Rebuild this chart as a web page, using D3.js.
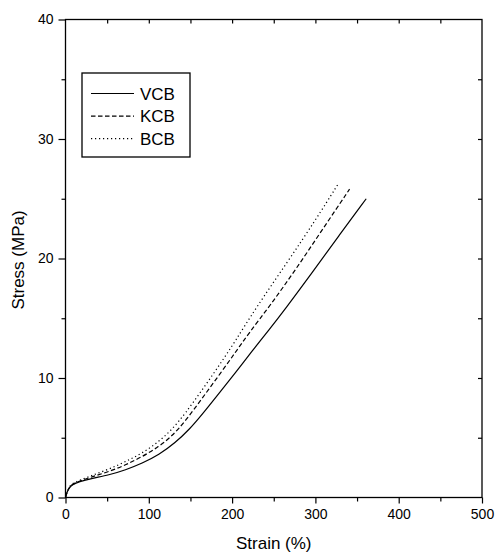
<!DOCTYPE html>
<html>
<head>
<meta charset="utf-8">
<script src="https://cdn.jsdelivr.net/npm/d3@7"></script>
<style>
  body { margin: 0; background: #fff; }
  svg { display: block; font-family: "Liberation Sans", Arial, sans-serif; }
</style>
</head>
<body>
<svg id="chart" width="496" height="554"></svg>
<script>
// strain (%) / stress (MPa)
const vcbStrain = [0, 2, 5, 8, 16, 32, 52, 72, 92, 112, 132, 148, 164, 184, 204, 224, 244, 264, 296, 328, 361];
const vcbStress = [0, 0.5, 0.85, 1.05, 1.32, 1.61, 1.88, 2.3, 2.86, 3.56, 4.6, 5.65, 6.95, 8.7, 10.45, 12.25, 14.0, 15.8, 18.8, 21.9, 25.0];

const kcbStrain = [0, 2, 5, 8, 16, 32, 52, 72, 92, 112, 128, 144, 164, 184, 204, 220, 246, 276, 308, 341];
const kcbStress = [0, 0.5, 0.9, 1.1, 1.36, 1.74, 2.16, 2.72, 3.41, 4.25, 5.15, 6.4, 8.3, 10.2, 12.15, 13.74, 16.1, 19.04, 22.38, 25.8];

const bcbStrain = [0, 2, 5, 8, 16, 32, 52, 72, 92, 112, 128, 144, 164, 184, 204, 227, 268, 300, 327];
const bcbStress = [0, 0.5, 0.95, 1.15, 1.42, 1.86, 2.36, 3.0, 3.7, 4.67, 5.7, 7.05, 9.0, 11.0, 13.1, 15.7, 19.87, 23.2, 26.2];

const seriesNames = ['VCB', 'KCB', 'BCB'];
const xTicks = [0, 100, 200, 300, 400, 500];
const yTicks = [0, 10, 20, 30, 40];

const series = [
  { name: 'VCB', x: vcbStrain, y: vcbStress, dash: null },
  { name: 'KCB', x: kcbStrain, y: kcbStress, dash: '4.5,2.5' },
  { name: 'BCB', x: bcbStrain, y: bcbStress, dash: '1.2,2.8' }
];

const margin = { top: 19.5, right: 14, bottom: 56.5, left: 65.5 };
const width = 496 - margin.left - margin.right;
const height = 554 - margin.top - margin.bottom;

const svg = d3.select('#chart');
const g = svg.append('g')
  .attr('transform', `translate(${margin.left},${margin.top})`);

const xScale = d3.scaleLinear().domain([0, 500]).range([0, width]);
const yScale = d3.scaleLinear().domain([0, 40]).range([height, 0]);

// frame
g.append('rect')
  .attr('width', width)
  .attr('height', height)
  .attr('fill', 'none')
  .attr('stroke', '#000')
  .attr('stroke-width', 1.3);

// bottom axis
g.append('g')
  .attr('transform', `translate(0,${height})`)
  .call(d3.axisBottom(xScale).tickValues(xTicks).tickSize(6).tickPadding(6));
g.append('g')
  .attr('transform', `translate(0,${height})`)
  .call(d3.axisBottom(xScale).tickValues([50, 150, 250, 350, 450]).tickSize(4).tickFormat(''));

// left axis
g.append('g')
  .call(d3.axisLeft(yScale).tickValues(yTicks).tickSize(7).tickPadding(5));
g.append('g')
  .call(d3.axisLeft(yScale).tickValues([5, 15, 25, 35]).tickSize(4).tickFormat(''));

// inner ticks on top and right
g.append('g')
  .call(d3.axisTop(xScale).tickValues([50, 100, 150, 200, 250, 300, 350, 400, 450]).tickSize(-4).tickFormat(''));
g.append('g')
  .attr('transform', `translate(${width},0)`)
  .call(d3.axisRight(yScale).tickValues([5, 10, 15, 20, 25, 30, 35]).tickSize(-4).tickFormat(''));

g.selectAll('.domain').remove();
g.selectAll('.tick line').attr('stroke', '#000').attr('stroke-width', 1.2);
g.selectAll('.tick text')
  .attr('fill', '#000')
  .style('font-size', '14px')
  .style('font-family', '"Liberation Sans", Arial, sans-serif');

// curves
const line = d3.line()
  .x(d => xScale(d[0]))
  .y(d => yScale(d[1]))
  .curve(d3.curveBasis);

series.forEach(s => {
  const pts = s.x.map((v, i) => [v, s.y[i]]);
  g.append('path')
    .datum(pts)
    .attr('d', line)
    .attr('fill', 'none')
    .attr('stroke', '#000')
    .attr('stroke-width', 1.2)
    .attr('stroke-dasharray', s.dash);
});

// legend
const legend = svg.append('g');
legend.append('rect')
  .attr('x', 82)
  .attr('y', 73)
  .attr('width', 108)
  .attr('height', 84)
  .attr('fill', '#fff')
  .attr('stroke', '#000')
  .attr('stroke-width', 1.3);

series.forEach((s, i) => {
  const cy = 93.5 + i * 22.6;
  legend.append('line')
    .attr('x1', 91)
    .attr('x2', 134)
    .attr('y1', cy)
    .attr('y2', cy)
    .attr('stroke', '#000')
    .attr('stroke-width', 1.2)
    .attr('stroke-dasharray', s.dash);
  legend.append('text')
    .attr('x', 140)
    .attr('y', cy + 6)
    .style('font-size', '17px')
    .text(seriesNames[i]);
});

// axis titles
svg.append('text')
  .attr('x', margin.left + width / 2)
  .attr('y', 549)
  .attr('text-anchor', 'middle')
  .style('font-size', '17px')
  .text('Strain (%)');

svg.append('text')
  .attr('transform', 'translate(24,260) rotate(-90)')
  .attr('text-anchor', 'middle')
  .style('font-size', '17px')
  .text('Stress (MPa)');
</script>
</body>
</html>
